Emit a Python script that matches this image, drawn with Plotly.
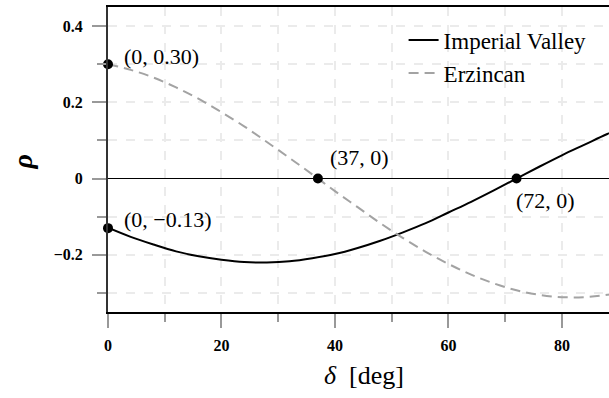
import plotly.graph_objects as go

# ---- data ----
delta_deg = [0, 4, 8, 12, 16, 20, 24, 28, 32, 36, 40, 44, 48, 52, 56, 60, 64, 68, 72, 76, 80, 84, 88, 92]
rho_imperial = [-0.129, -0.153, -0.173, -0.191, -0.204, -0.213, -0.219, -0.220, -0.217, -0.209,
                -0.198, -0.182, -0.163, -0.141, -0.117, -0.089, -0.061, -0.031, 0.000, 0.031,
                0.061, 0.089, 0.117, 0.141]
rho_erzincan = [0.300, 0.285, 0.265, 0.239, 0.209, 0.174, 0.137, 0.096, 0.054, 0.011,
                -0.033, -0.075, -0.117, -0.156, -0.192, -0.224, -0.252, -0.275, -0.293, -0.305,
                -0.311, -0.311, -0.305, -0.293]

point_x = [0, 0, 37, 72]
point_y = [0.30, -0.13, 0, 0]
point_labels = ["(0, 0.30)", "(0, \u22120.13)", "(37, 0)", "(72, 0)"]
label_shift_x = [14, 14, 10, -3]
label_shift_y = [8, 9, 21, -22]

x_tick_vals = [0, 20, 40, 60, 80]
x_tick_text = ["0", "20", "40", "60", "80"]
y_tick_vals = [-0.2, 0, 0.2, 0.4]
y_tick_text = ["\u22120.2", "0", "0.2", "0.4"]
x_title = "<i>\u03b4</i>  [deg]"
y_title = "<b><i>\u03c1</i></b>"

SERIF = "'Liberation Serif', 'Times New Roman', Times, serif"

fig = go.Figure()
fig.add_trace(go.Scatter(
    x=delta_deg, y=rho_imperial, mode="lines", name="Imperial Valley",
    line=dict(color="black", width=2, shape="spline"), legendgroup="a"))
fig.add_trace(go.Scatter(
    x=delta_deg, y=rho_erzincan, mode="lines", name="Erzincan",
    line=dict(color="#a3a3a3", width=2, dash="10px,6px", shape="spline"), legendgroup="b"))
fig.add_trace(go.Scatter(
    x=point_x, y=point_y, mode="markers", showlegend=False,
    marker=dict(color="black", size=10), cliponaxis=False))

for px, py, txt, sx, sy in zip(point_x, point_y, point_labels, label_shift_x, label_shift_y):
    fig.add_annotation(x=px, y=py, text=txt, showarrow=False, xanchor="left", yanchor="middle",
                       xshift=sx, yshift=sy, font=dict(family=SERIF, size=22, color="black"))

# axis titles
fig.add_annotation(x=0.5, xref="paper", xshift=5, y=0, yref="paper", yshift=-63,
                   text=x_title, showarrow=False, xanchor="center", yanchor="middle",
                   font=dict(family=SERIF, size=26, color="black"))
fig.add_annotation(x=0, xref="paper", xshift=-86, y=0.5, yref="paper", yshift=-3,
                   text=y_title, showarrow=False, xanchor="center", yanchor="middle",
                   textangle=-90, font=dict(family=SERIF, size=28, color="black"))

grid_color = "#ebebeb"
fig.update_xaxes(
    range=[0, 88.3], tickvals=x_tick_vals, ticktext=x_tick_text,
    ticks="outside", ticklen=14, tickcolor="#999999", tickwidth=1.5, ticklabelstandoff=4,
    tickfont=dict(family=SERIF, size=16, color="black", weight="bold"),
    showgrid=True, gridcolor=grid_color, griddash="dash", gridwidth=2,
    minor=dict(tickvals=[10, 30, 50, 70], ticks="outside", ticklen=8, tickcolor="#999999",
               showgrid=True, gridcolor=grid_color, griddash="dash", gridwidth=2),
    showline=True, linecolor="black", linewidth=2, mirror=True, zeroline=False,
)
fig.update_yaxes(
    range=[-0.35, 0.45], tickvals=y_tick_vals, ticktext=y_tick_text,
    ticks="outside", ticklen=14, tickcolor="#999999", tickwidth=1.5, ticklabelstandoff=6,
    tickfont=dict(family=SERIF, size=16, color="black", weight="bold"),
    showgrid=True, gridcolor=grid_color, griddash="dash", gridwidth=2,
    minor=dict(tickvals=[-0.3, -0.1, 0.1, 0.3], ticks="outside", ticklen=9, tickcolor="#999999",
               showgrid=True, gridcolor=grid_color, griddash="dash", gridwidth=2),
    showline=True, linecolor="#333333", linewidth=2, mirror=False,
    zeroline=True, zerolinecolor="black", zerolinewidth=1,
)

fig.update_layout(
    width=609, height=398,
    margin=dict(l=108, r=0, t=7, b=86),
    plot_bgcolor="white", paper_bgcolor="white",
    font=dict(family=SERIF, color="black"),
    legend=dict(x=0.59, y=0.962, xanchor="left", yanchor="top",
                font=dict(family=SERIF, size=23, color="black"),
                bgcolor="rgba(0,0,0,0)", traceorder="grouped", tracegroupgap=0),
)

fig.write_html("out.html")
